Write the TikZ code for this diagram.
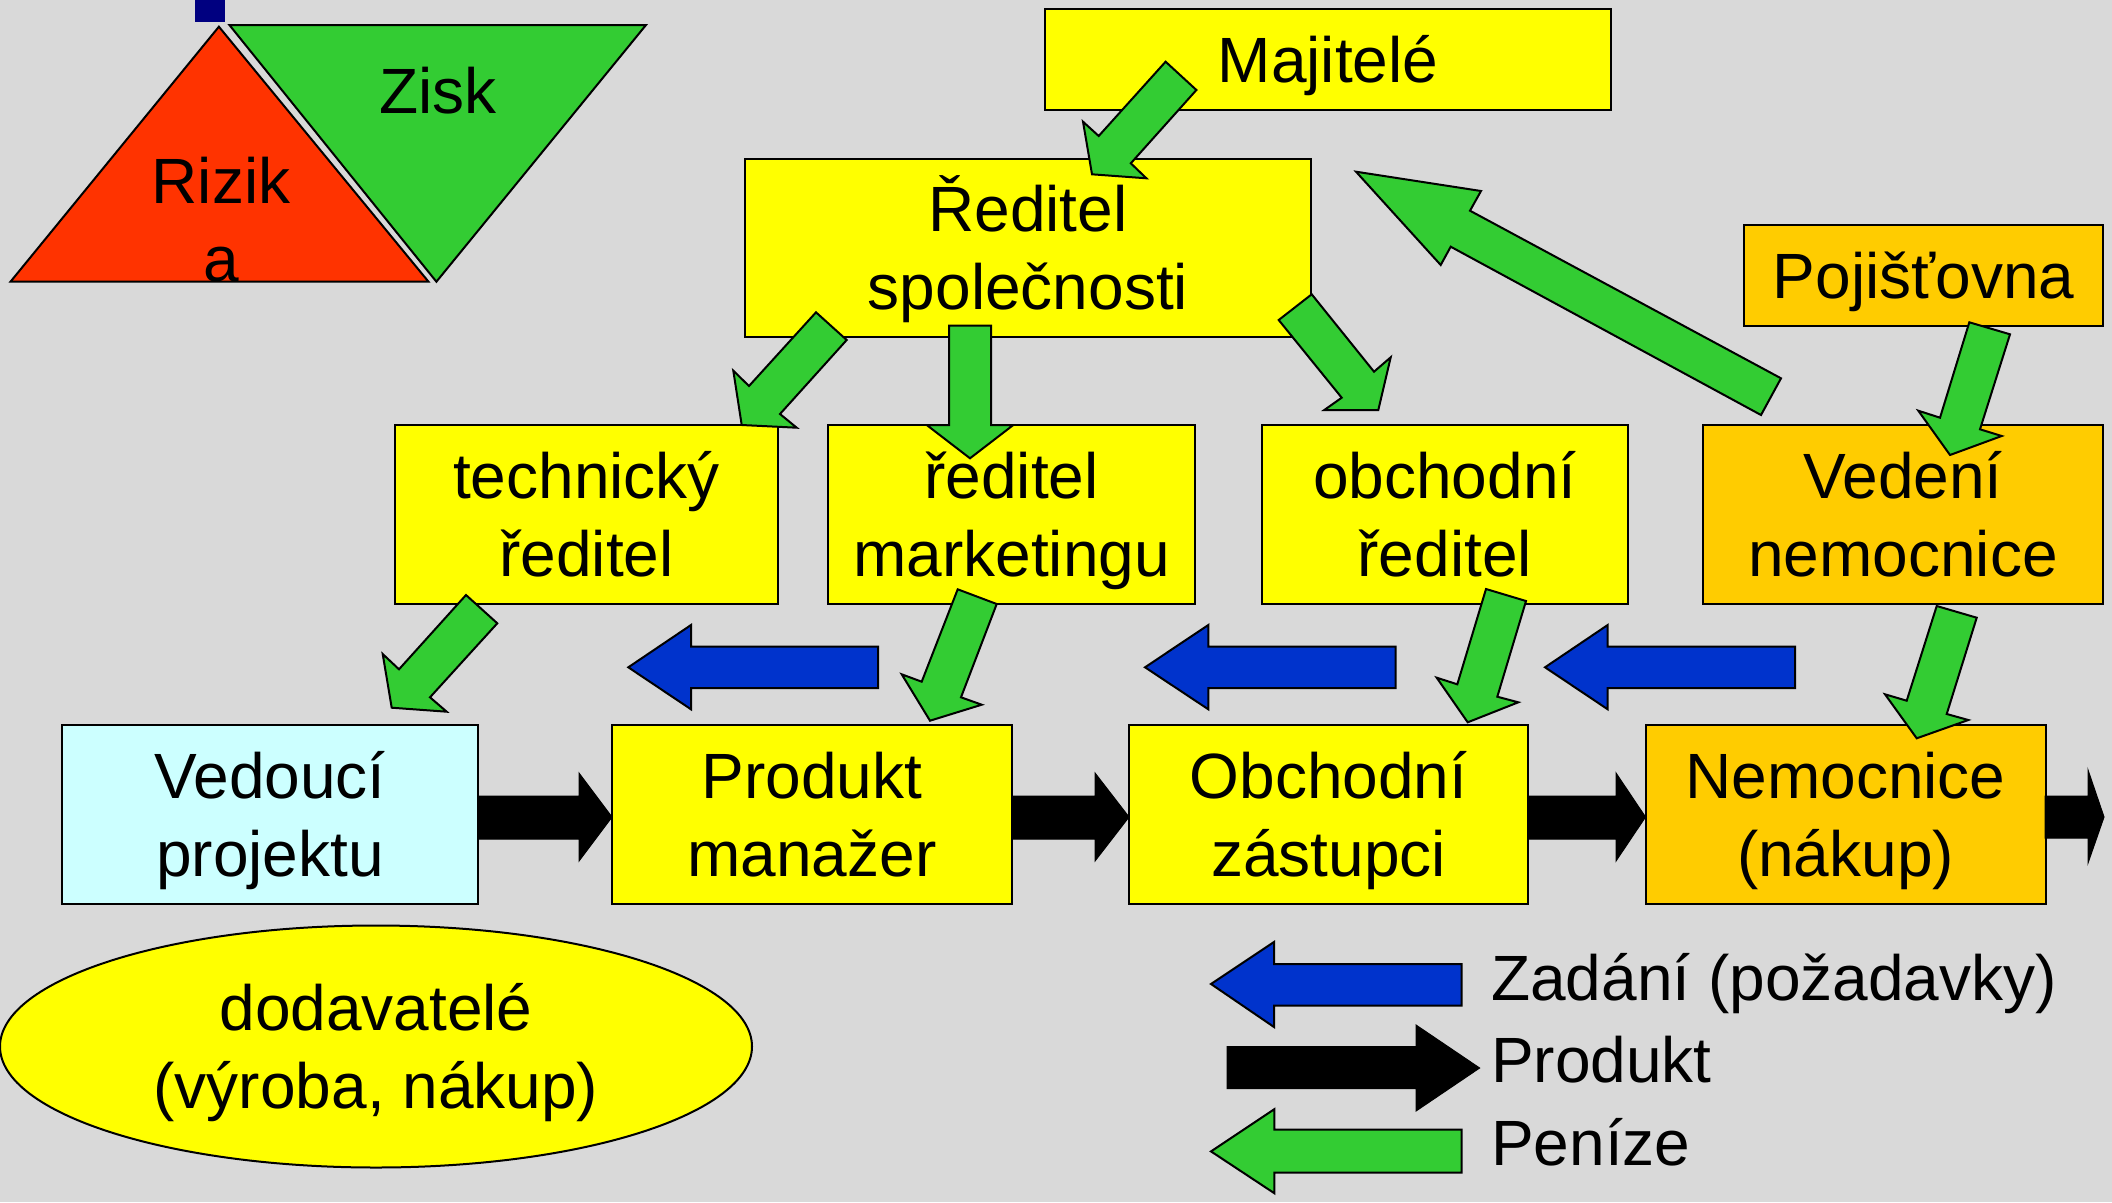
\documentclass[tikz,border=0pt]{standalone}
\usepackage{fontspec}
\setmainfont{Liberation Sans}
\usetikzlibrary{shapes.geometric}
\definecolor{bg}{RGB}{217,217,217}
\definecolor{boxyellow}{RGB}{255,255,0}
\definecolor{boxorange}{RGB}{255,204,0}
\definecolor{money}{RGB}{51,204,51}
\definecolor{task}{RGB}{0,51,204}
\definecolor{riskred}{RGB}{255,51,0}
\definecolor{navyblue}{RGB}{0,0,128}
\definecolor{lightcyan}{RGB}{204,255,255}
\newcommand\oneline[1]{\rule{0pt}{65pt}#1\rule[-20pt]{0pt}{20pt}}
\newcommand\twolines[2]{\rule{0pt}{65pt}#1\\#2\rule[-20pt]{0pt}{20pt}}
\begin{document}
\begin{tikzpicture}[x=1pt,y=-1pt,
  every node/.style={font=\fontsize{64}{78}\selectfont, inner sep=0pt, align=center},
  box/.style={draw=black, line width=2pt, rectangle, minimum height=179pt},
  smallbox/.style={draw=black, line width=2pt, rectangle, minimum height=101pt},
  moneyarrow/.style={fill=money, draw=black, line width=2pt, line join=miter},
  taskarrow/.style={fill=task, draw=black, line width=2pt, line join=miter},
  productarrow/.style={fill=black, draw=black, line width=1pt, line join=miter},
  triangle/.style={draw=black, line width=2pt, line join=miter}
]
% canvas
\fill[bg] (0,0) rectangle (2112,1202);
\useasboundingbox (0,0) rectangle (2112,1202);

% risk / profit triangles
\fill[navyblue] (195,0) rectangle (225,21.7);
\filldraw[triangle, fill=riskred] (218.9,26.7) -- (428.5,281.7) -- (10.5,281.7) -- cycle;
\filldraw[triangle, fill=money] (229.4,25) -- (646,25) -- (436.4,281.7) -- cycle;
\node (zisk) at (437.7,91) {Zisk};
\node (rizika) at (221,219.6) {Rizik\\a};

% boxes
\node[smallbox, fill=boxyellow, minimum width=566pt] (maj) at (1328,59.5) {\oneline{Majitelé}};
\node[box, fill=boxyellow, minimum width=566pt, minimum height=178pt] (red) at (1028,248) {\twolines{Ředitel}{společnosti}};
\node[smallbox, fill=boxorange, minimum width=359pt] (poj) at (1923.5,275.5) {\oneline{Pojišťovna}};
\node[box, fill=boxyellow, minimum width=383pt] (tech) at (586.5,514.5) {\twolines{technický}{ředitel}};
\node[box, fill=boxyellow, minimum width=367pt] (mkt) at (1011.5,514.5) {\twolines{ředitel}{marketingu}};
\node[box, fill=boxyellow, minimum width=366.5pt] (obch) at (1444.75,514.5) {\twolines{obchodní}{ředitel}};
\node[box, fill=boxorange, minimum width=400pt] (ved) at (1903,514.5) {\twolines{Vedení}{nemocnice}};
\node[box, fill=lightcyan, minimum width=416pt] (vp) at (270,814.5) {\twolines{Vedoucí}{projektu}};
\node[box, fill=boxyellow, minimum width=400pt] (pm) at (812,814.5) {\twolines{Produkt}{manažer}};
\node[box, fill=boxyellow, minimum width=399pt] (oz) at (1328.5,814.5) {\twolines{Obchodní}{zástupci}};
\node[box, fill=boxorange, minimum width=400pt] (nem) at (1845.5,814.5) {\twolines{Nemocnice}{(nákup)}};
\node[ellipse, draw=black, line width=2pt, fill=boxyellow, minimum width=752pt, minimum height=242pt] (dod) at (376,1046.5) {\twolines{dodavatelé}{(výroba, nákup)}};

% money arrows (green)
\filldraw[moneyarrow] (1165.6,61.7) -- (1196.4,90) -- (1130.8,163.3) -- (1146.4,178.3) -- (1092,174.3) -- (1083,121.7) -- (1098.7,136) -- cycle;
\filldraw[moneyarrow] (816,312.3) -- (846.7,340) -- (780,414) -- (796.7,427.7) -- (741.7,425) -- (733.3,370.7) -- (749,386) -- cycle;
\filldraw[moneyarrow] (949,325.7) -- (991,325.7) -- (991,425) -- (1013.3,425) -- (970,458.3) -- (926.7,425) -- (949,425) -- cycle;
\filldraw[moneyarrow] (1311.7,294.3) -- (1374,371.7) -- (1390.7,357.3) -- (1378.3,410) -- (1324.3,410) -- (1341.7,397.7) -- (1278.7,320) -- cycle;
\filldraw[moneyarrow] (1356,171.7) -- (1481,191) -- (1470,210.7) -- (1781,378.3) -- (1761,415) -- (1450.7,246.7) -- (1440.7,265) -- cycle;
\filldraw[moneyarrow] (1969.3,322.3) -- (2010,334.3) -- (1980,429.3) -- (2001.7,436) -- (1950,455) -- (1918.3,410.7) -- (1940,417.7) -- cycle;
\filldraw[moneyarrow] (1936.7,606) -- (1976.7,617.7) -- (1946.7,714) -- (1968.3,720) -- (1916.7,738.3) -- (1885,694.3) -- (1906.7,700.7) -- cycle;
\filldraw[moneyarrow] (466,595) -- (497.3,623.3) -- (430,697.3) -- (446.7,711.7) -- (391.7,707.7) -- (382.7,654) -- (399,669.3) -- cycle;
\filldraw[moneyarrow] (957.7,589.3) -- (996.7,604) -- (961,697.3) -- (981.7,704.7) -- (930,720.7) -- (901.7,674.3) -- (921.7,681.7) -- cycle;
\filldraw[moneyarrow] (1486,589) -- (1526,601) -- (1497.3,696.7) -- (1518.3,702.3) -- (1467.7,722.3) -- (1436.7,677.7) -- (1457.3,684.3) -- cycle;

% task arrows (blue)
\filldraw[taskarrow] (628.3,667.3) -- (691,625) -- (691,646.7) -- (878,646.7) -- (878,688) -- (691,688) -- (691,709.3) -- cycle;
\filldraw[taskarrow] (1145,667.3) -- (1208.3,625) -- (1208.3,646.7) -- (1395.7,646.7) -- (1395.7,688) -- (1208.3,688) -- (1208.3,709.3) -- cycle;
\filldraw[taskarrow] (1545,667.3) -- (1607.7,625) -- (1607.7,646.7) -- (1795,646.7) -- (1795,688) -- (1607.7,688) -- (1607.7,709.3) -- cycle;

% product arrows (black)
\filldraw[productarrow] (478,796) -- (579,796) -- (579,773) -- (612,817) -- (579,861) -- (579,839) -- (478,839) -- cycle;
\filldraw[productarrow] (1012,796) -- (1095,796) -- (1095,773) -- (1129,817) -- (1095,861) -- (1095,839) -- (1012,839) -- cycle;
\filldraw[productarrow] (1528,796) -- (1616,796) -- (1616,773) -- (1645.5,817) -- (1616,861) -- (1616,839) -- (1528,839) -- cycle;
\filldraw[productarrow] (2045,796) -- (2088,796) -- (2088,770) -- (2104,817) -- (2088,863) -- (2088,838) -- (2045,838) -- cycle;

% legend
\filldraw[taskarrow] (1211,984) -- (1274,942) -- (1274,964) -- (1461.5,964) -- (1461.5,1005.5) -- (1274,1005.5) -- (1274,1027) -- cycle;
\filldraw[productarrow] (1227,1046.5) -- (1416,1046.5) -- (1416,1025) -- (1479.6,1068) -- (1416,1111) -- (1416,1088.7) -- (1227,1088.7) -- cycle;
\filldraw[moneyarrow] (1211,1151.4) -- (1274.3,1109.2) -- (1274.3,1129.7) -- (1461.5,1129.7) -- (1461.5,1172.7) -- (1274.3,1172.7) -- (1274.3,1193.2) -- cycle;
\node[anchor=base west] (lzad) at (1491,1000.6) {Zadání (požadavky)};
\node[anchor=base west] (lprod) at (1491,1082.5) {Produkt};
\node[anchor=base west] (lpen) at (1491,1165.7) {Peníze};
\end{tikzpicture}
\end{document}
